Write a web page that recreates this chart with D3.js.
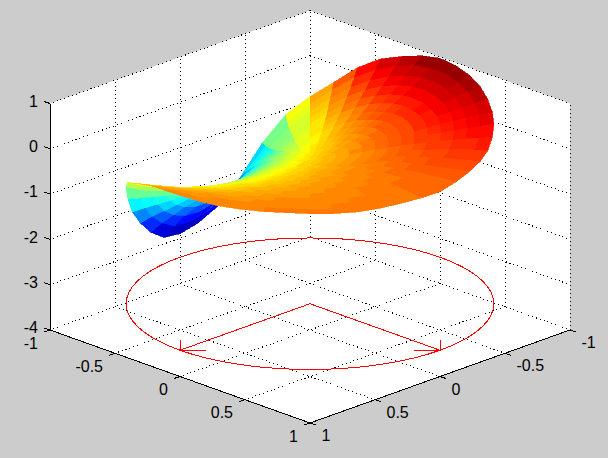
<!DOCTYPE html>
<html><head><meta charset="utf-8">
<script src="https://cdn.jsdelivr.net/npm/d3@7"></script>
<style>html,body{margin:0;padding:0;background:#ccc}svg{display:block}text{font-family:"Liberation Sans",Arial,sans-serif;font-size:16px;fill:#000}</style>
</head><body><svg id="c" width="608" height="458"></svg>
<script>
// Tick values
const xyTicks=[-1,-0.5,0,0.5,1];
const zTicks=[-4,-3,-2,-1,0,1];
const xyTickLabels=["-1","-0.5","0","0.5","1"];
const zTickLabels=["-4","-3","-2","-1","0","1"];
// Surface over the unit disc: ring radii, sector angles (deg), heights in hundredths
const ringRadii=[0,1/14,2/14,3/14,4/14,5/14,6/14,7/14,8/14,9/14,10/14,11/14,12/14,13/14,1];
const sectorAngles=[0,7.5,15,22.5,30,37.5,45,52.5,60,67.5,75,82.5,90,97.5,105,112.5,120,127.5,135,142.5,150,157.5,165,172.5,180,187.5,195,202.5,210,217.5,225,232.5,240,247.5,255,262.5,270,277.5,285,292.5,300,307.5,315,322.5,330,337.5,345,352.5];
const centreHeight=-32;
const ringHeights=[
[-25,-25,-26,-26,-27,-28,-28,-29,-30,-31,-32,-33,-34,-35,-36,-37,-38,-39,-39,-40,-40,-40,-40,-40,-40,-39,-39,-38,-37,-36,-35,-34,-33,-31,-30,-29,-28,-27,-26,-26,-25,-25,-24,-24,-24,-24,-24,-24],
[-18,-19,-20,-21,-23,-24,-25,-27,-29,-30,-32,-34,-36,-38,-40,-42,-44,-45,-47,-48,-49,-49,-50,-49,-49,-48,-46,-45,-43,-40,-38,-35,-33,-30,-28,-26,-24,-22,-20,-19,-18,-17,-17,-16,-16,-17,-17,-18],
[-13,-14,-15,-17,-19,-20,-22,-24,-26,-29,-31,-34,-37,-40,-43,-46,-49,-51,-54,-56,-58,-59,-60,-60,-59,-57,-55,-52,-49,-45,-41,-37,-32,-28,-25,-21,-18,-16,-13,-12,-11,-10,-9,-9,-10,-10,-11,-12],
[-8,-10,-11,-13,-15,-17,-19,-22,-24,-27,-30,-33,-37,-40,-44,-49,-53,-57,-61,-65,-68,-70,-71,-72,-71,-68,-65,-61,-55,-50,-44,-37,-31,-26,-20,-16,-12,-9,-6,-4,-3,-2,-2,-3,-3,-4,-5,-7],
[-4,-6,-8,-10,-12,-14,-16,-19,-22,-25,-28,-32,-36,-40,-45,-51,-56,-62,-68,-73,-78,-81,-84,-84,-83,-81,-76,-70,-63,-54,-46,-38,-29,-22,-15,-9,-5,-1,2,4,5,5,5,4,3,1,0,-2],
[0,-3,-5,-7,-9,-11,-14,-16,-19,-22,-26,-29,-34,-39,-45,-52,-59,-66,-74,-82,-88,-94,-97,-99,-98,-94,-88,-80,-70,-59,-48,-37,-26,-17,-9,-2,4,8,10,12,12,12,11,10,8,6,4,2],
[2,0,-2,-5,-7,-9,-11,-14,-16,-19,-23,-27,-32,-37,-44,-52,-60,-70,-80,-90,-99,-107,-112,-115,-114,-109,-102,-91,-78,-64,-49,-35,-23,-11,-1,6,12,17,19,20,20,19,18,16,13,10,8,5],
[5,2,0,-3,-5,-7,-9,-11,-14,-16,-20,-24,-29,-35,-42,-51,-61,-72,-85,-98,-110,-120,-128,-132,-132,-126,-116,-103,-86,-68,-50,-33,-17,-4,7,16,22,26,29,29,28,26,24,21,18,14,11,8],
[7,4,1,-1,-3,-5,-7,-9,-11,-13,-16,-20,-25,-31,-39,-48,-60,-73,-89,-105,-121,-135,-146,-152,-152,-146,-133,-115,-94,-72,-50,-29,-11,4,17,26,33,37,38,38,36,33,30,26,21,17,14,10],
[8,5,3,0,-1,-3,-5,-6,-8,-10,-13,-16,-21,-27,-35,-45,-58,-73,-92,-112,-132,-150,-165,-173,-174,-167,-151,-129,-103,-75,-49,-25,-4,14,27,37,44,47,48,47,44,40,35,30,25,20,16,12],
[9,6,4,1,0,-2,-3,-4,-5,-7,-9,-12,-16,-22,-30,-41,-55,-72,-93,-118,-143,-167,-185,-197,-199,-191,-172,-144,-111,-77,-46,-19,5,24,39,49,56,59,58,56,51,46,40,34,28,23,18,13],
[10,7,4,2,1,0,-1,-2,-3,-4,-6,-8,-11,-16,-24,-35,-50,-68,-93,-122,-154,-184,-208,-223,-227,-217,-195,-160,-118,-77,-42,-12,15,36,51,62,69,71,69,65,58,52,45,38,31,24,19,14],
[9,7,5,3,1,1,1,1,0,-2,-3,-4,-6,-10,-17,-29,-44,-63,-90,-126,-165,-201,-231,-252,-257,-247,-222,-178,-124,-74,-37,-4,26,49,65,76,82,83,79,73,65,57,49,41,32,26,21,15],
[8,7,6,3,1,1,2,3,2,1,0,0,0,-3,-9,-22,-38,-55,-84,-129,-177,-219,-257,-284,-290,-279,-252,-199,-127,-68,-30,3,39,64,78,90,97,95,90,83,72,62,54,44,33,27,22,15]
];
// Red figure on the plane z = -3.42
const redPlane=-3.42;
const redAxes=[[0,1],[1,0]];
const circleSteps=d3.range(0,361,5);
const jetStops=[0,.125,.375,.625,.875,1];
const jetColours=["#00008f","#0000ff","#00ffff","#ffff00","#ff0000","#800000"];

const svg=d3.select("#c");
// Scales: screen x from (a-b), floor y from (a+b), lift from height
const sx=d3.scaleLinear().domain([-2,2]).range([50,570]);
const sf=d3.scaleLinear().domain([-2,2]).range([237,423]);
const sz=d3.scaleLinear().domain([-4,1]).range([0,226.5]);
const heightFromHundredths=d3.scaleLinear().domain([-100,100]).range([-1,1]);
const X=(a,b)=>sx(a-b), Y=(a,b,z)=>sf(a+b)-sz(z);
const line=d3.line().x(d=>X(d[0],d[1])).y(d=>Y(d[0],d[1],d[2]));

// Box background
svg.append("path").attr("fill","#fff").attr("d",line([[-1,1,1],[-1,-1,1],[1,-1,1],[1,-1,-4],[1,1,-4],[-1,1,-4]])+"Z");

// Dotted grid on floor and two back walls
const grid=[];
xyTicks.forEach(t=>{
  grid.push([[t,-1,-4],[t,1,-4]]);
  grid.push([[-1,t,-4],[1,t,-4]]);
  grid.push([[-1,t,-4],[-1,t,1]]);
  grid.push([[t,-1,-4],[t,-1,1]]);
});
zTicks.forEach(z=>{
  grid.push([[-1,-1,z],[-1,1,z]]);
  grid.push([[-1,-1,z],[1,-1,z]]);
});
svg.append("g").selectAll("path").data(grid).join("path").attr("d",line).attr("fill","none")
 .attr("stroke","#000").attr("stroke-width",1).attr("stroke-dasharray","1 3").attr("shape-rendering","crispEdges");

// Red circle and arrows
const red=svg.append("g").attr("fill","none").attr("stroke","#f00").attr("stroke-width",1).attr("shape-rendering","crispEdges");
red.append("path").attr("d",line(circleSteps.map(s=>[Math.cos(s*Math.PI/180),Math.sin(s*Math.PI/180),redPlane])));
redAxes.forEach(([a,b])=>{
  red.append("path").attr("d",line([[0,0,redPlane],[a,b,redPlane]]));
  red.append("path").attr("d",line([[a,b,redPlane],[a,b,redPlane+.22]]));
  red.append("path").attr("d",line([[a,b,redPlane],[a-b*0+(b?0.1:-0.1),b+(b?-0.1:0.1),redPlane]]));
});

// Surface facets
const h=(i,j)=>heightFromHundredths(i===0?centreHeight:ringHeights[i-1][j%sectorAngles.length]);
const vert=(i,j)=>{const t=sectorAngles[j%sectorAngles.length]*Math.PI/180,r=ringRadii[i];return [r*Math.cos(t),r*Math.sin(t),h(i,j)];};
const facets=[];
ringRadii.slice(1).forEach((_,i)=>sectorAngles.forEach((_,j)=>{
  const P=[vert(i,j),vert(i+1,j),vert(i+1,j+1),vert(i,j+1)];
  const m=d3.mean(P,p=>p[2]);
  facets.push({P,m,depth:121.3*d3.mean(P,p=>p[0]+p[1])+17.4*m});
}));
facets.sort((a,b)=>a.depth-b.depth);
const jet=d3.scaleLinear().domain(jetStops).range(jetColours);
const colour=d3.scaleQuantize().domain([-2.9,0.97]).range(d3.range(64).map(i=>jet((i+.5)/64)));
svg.append("g").attr("shape-rendering","crispEdges").selectAll("path").data(facets).join("path")
 .attr("d",f=>line(f.P)+"Z").attr("fill",f=>colour(f.m)).attr("stroke",f=>colour(f.m)).attr("stroke-width",.7);

// Solid axes
const ax=svg.append("g").attr("fill","none").attr("stroke","#000").attr("stroke-width",1).attr("shape-rendering","crispEdges");
ax.append("path").attr("d",line([[-1,1,1],[-1,1,-4],[1,1,-4],[1,-1,-4]]));
// Tick marks: offsets along the axis directions
xyTicks.forEach(t=>{
  const a=[t,1,-4],b=[1,t,-4];
  ax.append("path").attr("d",`M${X(a[0],a[1])},${Y(a[0],a[1],a[2])}l-6,2`);
  ax.append("path").attr("d",`M${X(b[0],b[1])},${Y(b[0],b[1],b[2])}l6,2`);
});
zTicks.forEach(z=>ax.append("path").attr("d",`M${X(-1,1)},${Y(-1,1,z)}l-6,-2`));

// Tick labels
const lab=svg.append("g");
zTicks.forEach((z,i)=>lab.append("text").attr("x",38).attr("y",Y(-1,1,z)-2.5).attr("dy",".35em").attr("text-anchor","end").text(zTickLabels[i]));
xyTicks.forEach((t,i)=>{
  lab.append("text").attr("x",X(t,1)-12).attr("y",Y(t,1,-4)+13).attr("dy",".35em").attr("text-anchor","end").text(xyTickLabels[i]);
  lab.append("text").attr("x",X(1,t)+11.5).attr("y",Y(1,t,-4)+12.5).attr("dy",".35em").attr("text-anchor","start").text(xyTickLabels[i]);
});
</script></body></html>
